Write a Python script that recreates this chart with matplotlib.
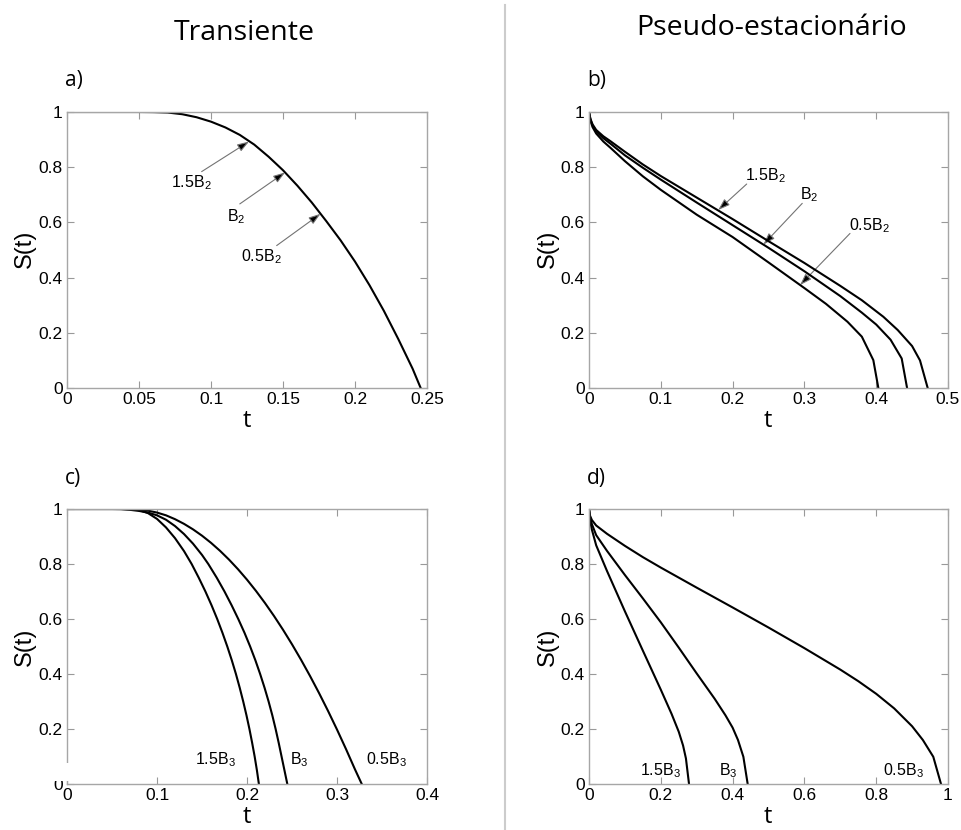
import numpy as np
import matplotlib
matplotlib.use("Agg")
import matplotlib.pyplot as plt
from matplotlib.patches import FancyArrowPatch, Rectangle
from matplotlib.lines import Line2D
from matplotlib.ticker import FuncFormatter, FixedLocator

plt.rcParams['font.family'] = ['Liberation Sans', 'DejaVu Sans']
plt.rcParams['mathtext.fontset'] = 'custom'
plt.rcParams['mathtext.rm'] = 'Liberation Sans'
plt.rcParams['mathtext.it'] = 'Liberation Sans:italic'

# ---------------- data ----------------
# a) transient regime, B2 family (the three curves coincide)
t_a = [0, 0.05, 0.06, 0.07, 0.08, 0.09, 0.10, 0.11, 0.12, 0.13, 0.14, 0.15,
       0.16, 0.17, 0.18, 0.19, 0.20, 0.21, 0.22, 0.23, 0.24, 0.2456]
s_a = [1, 1, 0.9995, 0.998, 0.992, 0.981, 0.965, 0.944, 0.917, 0.882, 0.838,
       0.789, 0.733, 0.672, 0.605, 0.535, 0.458, 0.373, 0.28, 0.178, 0.07, 0]

# b) pseudo-steady regime, B2 family
t_b_15 = [0, 0.002, 0.005, 0.01, 0.02, 0.03, 0.05, 0.075, 0.1, 0.15, 0.2,
          0.25, 0.3, 0.35, 0.38, 0.41, 0.43, 0.45, 0.461, 0.4717]
s_b_15 = [1, 0.975, 0.955, 0.935, 0.912, 0.894, 0.856, 0.81, 0.768, 0.69,
          0.612, 0.532, 0.453, 0.37, 0.318, 0.258, 0.21, 0.152, 0.10, 0]
t_b_10 = [0, 0.002, 0.005, 0.01, 0.02, 0.03, 0.05, 0.075, 0.1, 0.15, 0.2,
          0.25, 0.3, 0.35, 0.38, 0.40, 0.42, 0.4355, 0.443]
s_b_10 = [1, 0.972, 0.951, 0.93, 0.905, 0.885, 0.843, 0.798, 0.755, 0.672,
          0.59, 0.508, 0.423, 0.333, 0.273, 0.23, 0.175, 0.107, 0]
t_b_05 = [0, 0.002, 0.005, 0.01, 0.02, 0.03, 0.05, 0.075, 0.1, 0.15, 0.2,
          0.25, 0.3, 0.33, 0.36, 0.38, 0.396, 0.403]
s_b_05 = [1, 0.968, 0.945, 0.922, 0.893, 0.87, 0.822, 0.767, 0.718, 0.628,
          0.547, 0.455, 0.362, 0.305, 0.24, 0.186, 0.101, 0]

# c) transient regime, B3 family
t_c_15 = [0, 0.06, 0.07, 0.08, 0.09, 0.10, 0.11, 0.12, 0.13, 0.1385, 0.1464,
          0.1538, 0.1606, 0.1669, 0.1727, 0.1781, 0.1831, 0.1877, 0.1919,
          0.1958, 0.1994, 0.2027, 0.2057, 0.2085, 0.2110, 0.2132]
s_c_15 = [1, 1, 0.9995, 0.996, 0.985, 0.964, 0.933, 0.894, 0.847, 0.8, 0.75,
          0.7, 0.65, 0.6, 0.55, 0.5, 0.45, 0.4, 0.35, 0.3, 0.25, 0.2, 0.15,
          0.1, 0.05, 0]
t_c_10 = [0, 0.05, 0.06, 0.07, 0.08, 0.09, 0.10, 0.11, 0.12, 0.13, 0.14,
          0.15, 0.157, 0.1664, 0.175, 0.1829, 0.1903, 0.1972, 0.2035, 0.2093,
          0.2146, 0.2195, 0.224, 0.2281, 0.2318, 0.2352, 0.2384, 0.2416,
          0.2448]
s_c_10 = [1, 1, 0.9995, 0.997, 0.993, 0.987, 0.977, 0.961, 0.938, 0.909,
          0.874, 0.833, 0.8, 0.75, 0.7, 0.65, 0.6, 0.55, 0.5, 0.45, 0.4,
          0.35, 0.3, 0.25, 0.2, 0.15, 0.1, 0.05, 0]
t_c_05 = [0, 0.06, 0.07, 0.08, 0.09, 0.10, 0.11, 0.12, 0.13, 0.14, 0.15,
          0.16, 0.17, 0.18, 0.19, 0.20, 0.21, 0.22, 0.23, 0.24, 0.25, 0.26,
          0.27, 0.28, 0.29, 0.30, 0.31, 0.32, 0.3275]
s_c_05 = [1, 1, 0.9995, 0.998, 0.994, 0.987, 0.977, 0.963, 0.946, 0.926,
          0.903, 0.877, 0.848, 0.816, 0.781, 0.743, 0.702, 0.658, 0.611,
          0.561, 0.508, 0.452, 0.393, 0.331, 0.266, 0.198, 0.127, 0.053, 0]

# d) pseudo-steady regime, B3 family
t_d_05 = [0, 0.003, 0.008, 0.02, 0.05, 0.1, 0.15, 0.2, 0.3, 0.4, 0.5, 0.6,
          0.7, 0.75, 0.8, 0.85, 0.9, 0.93, 0.959, 0.9805]
s_d_05 = [1, 0.975, 0.96, 0.94, 0.91, 0.866, 0.825, 0.787, 0.714, 0.642,
          0.569, 0.494, 0.416, 0.374, 0.328, 0.275, 0.21, 0.16, 0.099, 0]
t_d_10 = [0, 0.003, 0.008, 0.02, 0.05, 0.1, 0.15, 0.2, 0.25, 0.3, 0.35,
          0.38, 0.40, 0.415, 0.43, 0.442]
s_d_10 = [1, 0.97, 0.945, 0.905, 0.848, 0.76, 0.675, 0.588, 0.496, 0.402,
          0.31, 0.25, 0.205, 0.16, 0.099, 0]
t_d_15 = [0, 0.003, 0.008, 0.02, 0.05, 0.1, 0.15, 0.2, 0.23, 0.25, 0.262,
          0.270, 0.2786]
s_d_15 = [1, 0.96, 0.925, 0.868, 0.775, 0.628, 0.485, 0.343, 0.255, 0.19,
          0.14, 0.093, 0]

# axis ticks
yticks = [0, 0.2, 0.4, 0.6, 0.8, 1]
xticks_a = [0, 0.05, 0.1, 0.15, 0.2, 0.25]
xticks_b = [0, 0.1, 0.2, 0.3, 0.4, 0.5]
xticks_c = [0, 0.1, 0.2, 0.3, 0.4]
xticks_d = [0, 0.2, 0.4, 0.6, 0.8, 1]

titles = ["Transiente", "Pseudo-estacionário"]
panel_tags = ["a)", "b)", "c)", "d)"]

# ---------------- figure ----------------
W, H = 962, 830
fig = plt.figure(figsize=(W / 100, H / 100), dpi=100)


def fx(px):
    return px / W


def fy(py):
    return 1 - py / H


def make_axes(left, right, top, bottom):
    return fig.add_axes([fx(left), fy(bottom), fx(right - left), (bottom - top) / H])


ax_a = make_axes(67, 427, 112, 388)
ax_b = make_axes(589, 948, 112, 388)
ax_c = make_axes(67, 427, 509, 784)
ax_d = make_axes(589, 948, 509, 784)

fmt = FuncFormatter(lambda v, p: f"{v:g}")


def style(ax, xticks):
    ax.set_xlim(xticks[0], xticks[-1])
    ax.set_ylim(0, 1)
    ax.xaxis.set_major_locator(FixedLocator(xticks))
    ax.yaxis.set_major_locator(FixedLocator(yticks))
    ax.xaxis.set_major_formatter(fmt)
    ax.yaxis.set_major_formatter(fmt)
    ax.tick_params(direction='in', length=5, width=0.8, color='0.6',
                   labelsize=12.5, top=True, right=True, pad=3)
    for s in ax.spines.values():
        s.set_color('0.65')
        s.set_linewidth(1.0)


for ax, xt in ((ax_a, xticks_a), (ax_b, xticks_b), (ax_c, xticks_c), (ax_d, xticks_d)):
    style(ax, xt)

line_kw = dict(color='black', lw=1.5, solid_joinstyle='round')

ax_a.plot(t_a, s_a, **line_kw)
for t, s in ((t_b_15, s_b_15), (t_b_10, s_b_10), (t_b_05, s_b_05)):
    ax_b.plot(t, s, **line_kw)
for t, s in ((t_c_15, s_c_15), (t_c_10, s_c_10), (t_c_05, s_c_05)):
    ax_c.plot(t, s, **line_kw)
for t, s in ((t_d_15, s_d_15), (t_d_10, s_d_10), (t_d_05, s_d_05)):
    ax_d.plot(t, s, **line_kw)


def arrow_label(ax, text, text_xy, tail_xy, head_xy):
    ax.text(*text_xy, text, ha='center', va='center', fontsize=11.5)
    arr = FancyArrowPatch(tail_xy, head_xy,
                          arrowstyle='-|>,head_length=0.5,head_width=0.17',
                          mutation_scale=14, fc='black', ec='0.45', lw=0.8,
                          shrinkA=0, shrinkB=0)
    ax.add_patch(arr)


arrow_label(ax_a, r"1.5B$_2$", (0.0864, 0.744), (0.0935, 0.784), (0.1264, 0.893))
arrow_label(ax_a, r"B$_2$", (0.1174, 0.621), (0.120, 0.667), (0.1514, 0.781))
arrow_label(ax_a, r"0.5B$_2$", (0.135, 0.476), (0.1456, 0.516), (0.176, 0.631))

arrow_label(ax_b, r"1.5B$_2$", (0.245, 0.769), (0.2196, 0.739), (0.180, 0.645))
arrow_label(ax_b, r"B$_2$", (0.307, 0.699), (0.297, 0.669), (0.243, 0.52))
arrow_label(ax_b, r"0.5B$_2$", (0.390, 0.590), (0.3635, 0.560), (0.294, 0.373))

for x, txt in ((0.1644, r"1.5B$_3$"), (0.258, r"B$_3$"), (0.355, r"0.5B$_3$")):
    ax_c.text(x, 0.087, txt, ha='center', va='center', fontsize=11.5)
for x, txt in ((0.198, r"1.5B$_3$"), (0.388, r"B$_3$"), (0.8756, r"0.5B$_3$")):
    ax_d.text(x, 0.048, txt, ha='center', va='center', fontsize=11.5)

# axis labels
for x, y in ((25, 249), (548, 249), (25, 647), (548, 647)):
    fig.text(fx(x), fy(y), "S(t)", rotation=90, ha='center', va='center', fontsize=17)
for x, y in ((247, 421), (768, 421), (247, 817), (768, 817)):
    fig.text(fx(x), fy(y), "t", ha='center', va='center', fontsize=17,
             family='Open Sans')

# column titles and panel tags
fig.text(fx(244), fy(40), titles[0], ha='center', va='baseline', fontsize=20.5,
         family='Open Sans')
fig.text(fx(772), fy(35), titles[1], ha='center', va='baseline', fontsize=20.5,
         family='Open Sans')
for (x, y), tag in zip(((65, 86), (587, 86), (65, 484), (587, 484)), panel_tags):
    fig.text(fx(x), fy(y), tag, ha='left', va='baseline', fontsize=15,
             family='Open Sans')

# separator between the two columns
fig.add_artist(Line2D([fx(505), fx(505)], [fy(5), 0], transform=fig.transFigure,
                      color='0.8', lw=1.5))

# white mask at the lower-left corner of panel c
fig.add_artist(Rectangle((fx(40), fy(781)), fx(28.5), (781 - 763) / H,
                         transform=fig.transFigure, facecolor='white',
                         edgecolor='none', zorder=10))

fig.savefig("out.png", dpi=100, facecolor='white')
